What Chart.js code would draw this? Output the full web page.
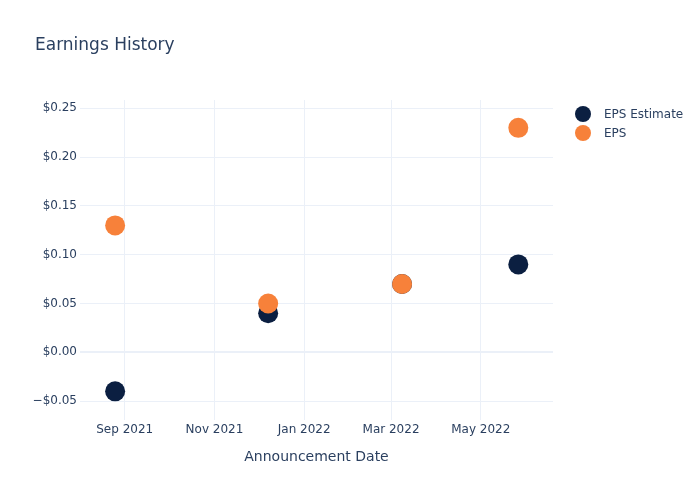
<!DOCTYPE html>
<html>
<head>
<meta charset="utf-8">
<script src="https://cdn.jsdelivr.net/npm/chart.js@4"></script>
<style>
    html, body { margin: 0; padding: 0; background: #fff; }
    #wrap { width: 700px; height: 500px; }
</style>
</head>
<body>
<div id="wrap"><canvas id="epsChart" width="700" height="500"></canvas></div>
<script>
// Earnings history data
const announceDates = ['2021-08-25', '2021-12-07', '2022-03-08', '2022-05-26'];
const epsEstimate = [-0.04, 0.04, 0.07, 0.09];
const epsActual = [0.13, 0.05, 0.07, 0.23];
const seriesNames = ['EPS Estimate', 'EPS'];
const seriesColors = ['#0b1f41', '#f7813a'];

// Tick labels
const xTickDates = ['2021-09-01', '2021-11-01', '2022-01-01', '2022-03-01', '2022-05-01'];
const xTickLabels = ['Sep 2021', 'Nov 2021', 'Jan 2022', 'Mar 2022', 'May 2022'];
const yTicks = [-0.05, 0, 0.05, 0.1, 0.15, 0.2, 0.25];

// Axis ranges
const xMin = Date.UTC(2021, 7, 1, 15);
const xMax = Date.UTC(2022, 5, 19, 2);
const yMin = -0.0694;
const yMax = 0.2585;

const FONT = '"DejaVu Sans", Verdana, sans-serif';
const TEXT = '#2a3f5f';
const GRID = '#ebf0f8';

function toTime(d) {
    return Date.parse(d + 'T12:00:00Z');
}

function formatMoney(v) {
    const s = '$' + Math.abs(v).toFixed(2);
    return v < -1e-9 ? '\u2212' + s : s;
}

const xTickTimes = xTickDates.map(d => Date.parse(d + 'T00:00:00Z'));

// Title + legend drawn outside chart area
const headerPlugin = {
    id: 'header',
    afterDraw(chart) {
        const ctx = chart.ctx;
        ctx.save();
        ctx.fillStyle = TEXT;
        ctx.font = '17px ' + FONT;
        ctx.textBaseline = 'middle';
        ctx.textAlign = 'left';
        ctx.fillText('Earnings History', 35, 46);

        ctx.font = '12px ' + FONT;
        seriesNames.forEach((name, i) => {
            const y = 114 + i * 19;
            ctx.beginPath();
            ctx.arc(583, y, 8, 0, Math.PI * 2);
            ctx.fillStyle = seriesColors[i];
            ctx.fill();
            ctx.fillStyle = TEXT;
            ctx.fillText(name, 604, y + 1);
        });
        ctx.restore();
    }
};

const ctx = document.getElementById('epsChart').getContext('2d');
new Chart(ctx, {
    type: 'scatter',
    data: {
        datasets: [
            {
                label: seriesNames[0],
                data: announceDates.map((d, i) => ({ x: toTime(d), y: epsEstimate[i] })),
                backgroundColor: seriesColors[0],
                borderColor: seriesColors[0],
                pointRadius: 10,
                pointHoverRadius: 10,
                borderWidth: 0,
                order: 1
            },
            {
                label: seriesNames[1],
                data: announceDates.map((d, i) => ({ x: toTime(d), y: epsActual[i] })),
                backgroundColor: seriesColors[1],
                borderColor: seriesColors[1],
                pointRadius: 10,
                pointHoverRadius: 10,
                borderWidth: 0,
                order: 0
            }
        ]
    },
    options: {
        responsive: false,
        animation: false,
        layout: {
            padding: { top: 100, right: 147, bottom: 0, left: 0 }
        },
        scales: {
            x: {
                type: 'linear',
                min: xMin,
                max: xMax,
                border: { display: false },
                grid: { color: GRID, lineWidth: 1, drawTicks: false },
                afterBuildTicks: scale => {
                    scale.ticks = xTickTimes.map(v => ({ value: v }));
                },
                afterFit: scale => { scale.height = 80; },
                ticks: {
                    padding: 3,
                    color: TEXT,
                    font: { family: FONT, size: 12 },
                    maxRotation: 0,
                    callback: value => xTickLabels[xTickTimes.indexOf(value)] || ''
                },
                title: {
                    display: true,
                    text: 'Announcement Date',
                    color: TEXT,
                    font: { family: FONT, size: 14 },
                    padding: { top: 0, bottom: 34 }
                }
            },
            y: {
                type: 'linear',
                min: yMin,
                max: yMax,
                border: { display: false },
                grid: {
                    color: GRID,
                    drawTicks: false,
                    lineWidth: c => (c.tick && Math.abs(c.tick.value) < 1e-9 ? 2 : 1)
                },
                afterBuildTicks: scale => {
                    scale.ticks = yTicks.map(v => ({ value: v }));
                },
                afterFit: scale => { scale.width = 80; },
                ticks: {
                    padding: 3,
                    color: TEXT,
                    font: { family: FONT, size: 12 },
                    callback: value => formatMoney(value)
                }
            }
        },
        plugins: {
            legend: { display: false },
            title: { display: false },
            tooltip: { enabled: false }
        }
    },
    plugins: [headerPlugin]
});
</script>
</body>
</html>
